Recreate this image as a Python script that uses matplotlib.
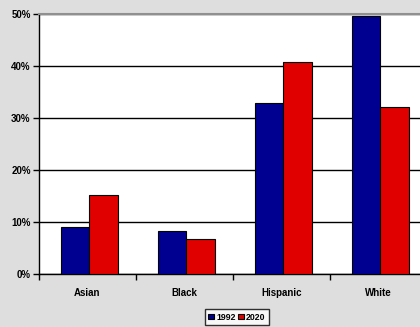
import matplotlib.pyplot as plt
from matplotlib.ticker import PercentFormatter

groups = ['Asian', 'Black', 'Hispanic', 'White']
years = ['1992', '2020']
share_1992 = [9.1, 8.3, 32.9, 49.6]
share_2020 = [15.1, 6.7, 40.8, 32.2]

plt.rcParams['font.family'] = ['Liberation Sans', 'DejaVu Sans']
plt.rcParams['font.weight'] = 'bold'

fig = plt.figure(figsize=(4.2, 3.27), dpi=100)
fig.patch.set_facecolor('#dedede')

# plot area runs off the right edge like in the original
ax = fig.add_axes([39 / 420, 53 / 327, 388 / 420, 260 / 327])
ax.set_facecolor('white')

x = range(len(groups))
w = 0.29
ax.bar([i - w / 2 + 0.02 for i in x], share_1992, width=w, color='#000090',
       edgecolor='black', linewidth=0.8, label=years[0], zorder=3)
ax.bar([i + w / 2 + 0.02 for i in x], share_2020, width=w, color='#e00000',
       edgecolor='black', linewidth=0.8, label=years[1], zorder=3)

ax.set_xlim(-0.5, 3.5)
ax.set_ylim(0, 50)
ax.set_yticks([0, 10, 20, 30, 40, 50])
ax.yaxis.set_major_formatter(PercentFormatter(decimals=0))
ax.grid(axis='y', color='black', linewidth=1, zorder=1)

ax.set_xticks([i + 0.5 for i in range(-1, 4)])
ax.set_xticklabels([])
ax.set_xticks(list(x), minor=True)
ax.set_xticklabels(groups, minor=True)
ax.tick_params(axis='x', which='minor', length=0, pad=10, labelsize=7)
ax.tick_params(axis='x', which='major', length=4, width=1, direction='out')
ax.tick_params(axis='y', length=4, width=1, labelsize=7, pad=2)

ax.spines['top'].set_color('#909090')
ax.spines['top'].set_linewidth(1.5)
ax.spines['right'].set_visible(False)
ax.spines['left'].set_linewidth(1)
ax.spines['bottom'].set_linewidth(1)

leg = fig.legend(loc='center', bbox_to_anchor=(237 / 420, 10 / 327), ncol=2,
                 fontsize=6.3, frameon=True, fancybox=False, edgecolor='black',
                 handlelength=0.6, handleheight=0.6, handletextpad=0.3,
                 columnspacing=0.3, borderpad=0.4, borderaxespad=0)
leg.get_frame().set_linewidth(1)

fig.savefig('out.png', dpi=100, facecolor=fig.get_facecolor())
